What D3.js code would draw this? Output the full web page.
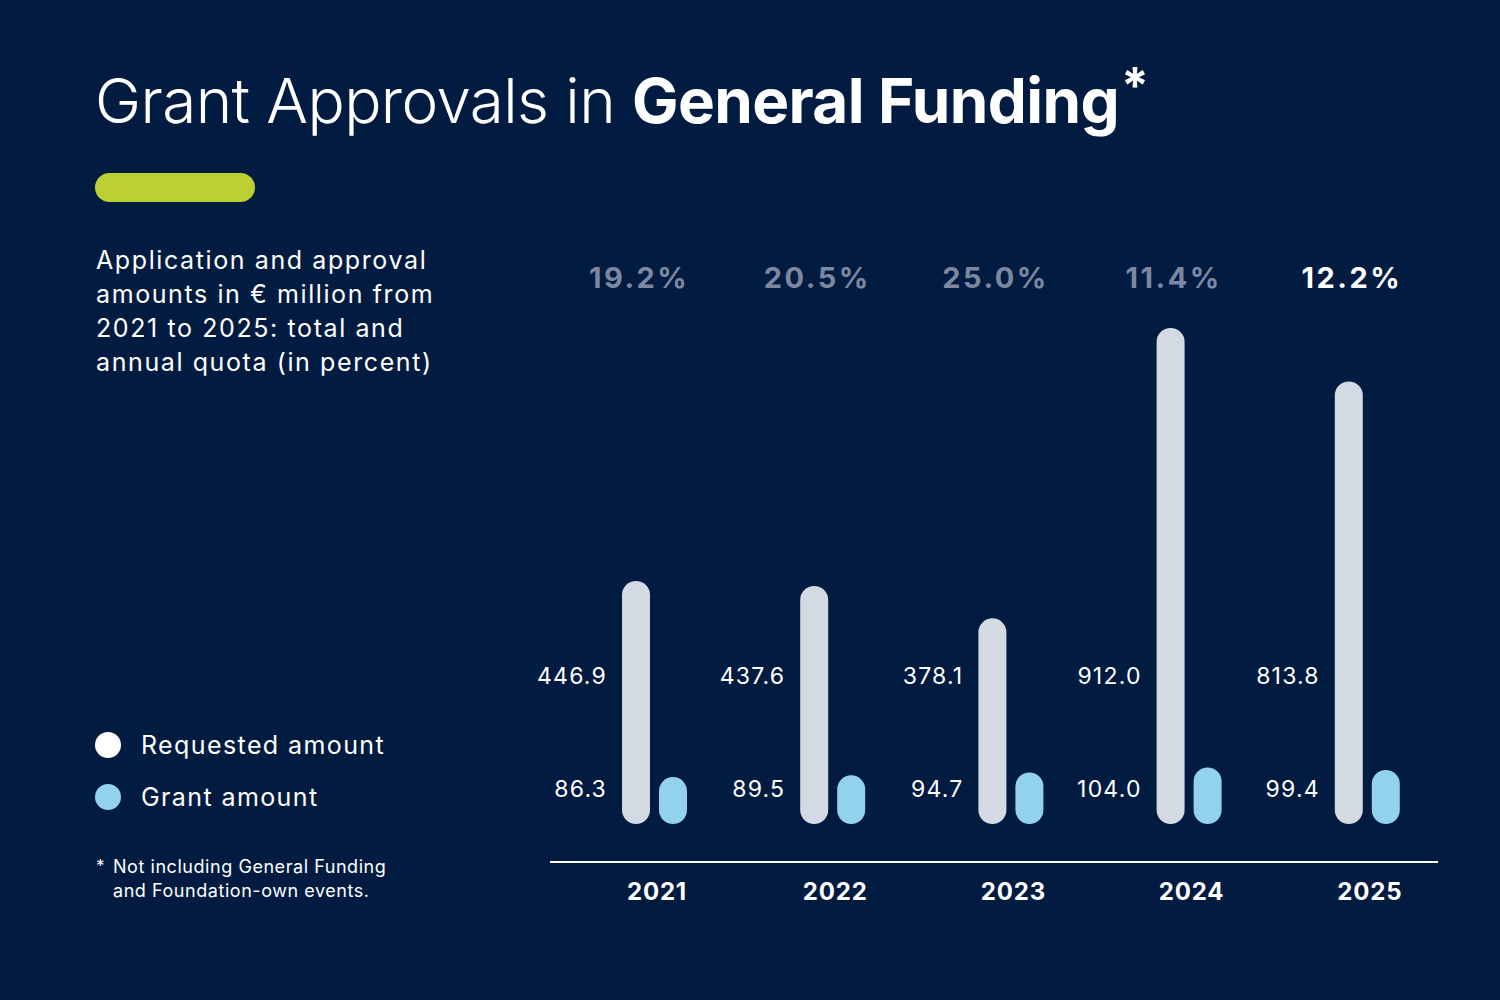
<!DOCTYPE html>
<html>
<head>
<meta charset="utf-8">
<script src="https://cdn.jsdelivr.net/npm/d3@7"></script>
<style>
  html, body { margin: 0; padding: 0; background: #011c40; }
  svg { display: block; font-family: Inter, "Open Sans", sans-serif; }
</style>
</head>
<body>
<svg id="chart" width="1500" height="1000"></svg>
<script>
const years = ['2021', '2022', '2023', '2024', '2025']
const requested = [446.9, 437.6, 378.1, 912.0, 813.8]
const granted = [86.3, 89.5, 94.7, 104.0, 99.4]
const quota = [19.2, 20.5, 25.0, 11.4, 12.2]
const subtitleLines = [
  'Application and approval',
  'amounts in € million from',
  '2021 to 2025: total and',
  'annual quota (in percent)'
]
const legendItems = ['Requested amount', 'Grant amount']
const footnoteLines = ['Not including General Funding', 'and Foundation-own events.']

const bg = '#011c40'
const reqColor = '#d4dae3'
const grantColor = '#92d2ec'
const pctGrey = '#7c88a2'

const svg = d3.select('#chart')

svg.append('rect').attr('width', 1500).attr('height', 1000).attr('fill', bg)

// title
const title = svg.append('text')
  .attr('x', 95).attr('y', 123)
  .attr('fill', 'white')
  .attr('font-size', 62)
  .attr('letter-spacing', -0.6)
title.append('tspan').attr('font-weight', 300).text('Grant Approvals in ')
title.append('tspan').attr('font-weight', 700).text('General Funding')
title.append('tspan').attr('font-weight', 700).attr('font-size', 50).attr('dx', 2).attr('dy', -20).text('*')

// green pill
svg.append('rect')
  .attr('x', 95).attr('y', 173).attr('width', 160).attr('height', 29)
  .attr('rx', 14.5).attr('fill', '#bdd033')

// subtitle
svg.append('g').selectAll('text')
  .data(subtitleLines)
  .join('text')
  .attr('x', 96)
  .attr('y', (d, i) => 269 + i * 34)
  .attr('fill', 'white')
  .attr('font-size', 25)
  .attr('letter-spacing', 1.6)
  .text(d => d)

// legend
const legend = svg.append('g').selectAll('g')
  .data(legendItems)
  .join('g')
  .attr('transform', (d, i) => `translate(108, ${745 + i * 52})`)
legend.append('circle').attr('r', 13).attr('fill', (d, i) => i ? grantColor : 'white')
legend.append('text')
  .attr('x', 33).attr('y', 9)
  .attr('fill', 'white').attr('font-size', 25).attr('letter-spacing', 1.4)
  .text(d => d)

// footnote
svg.append('text').attr('x', 96).attr('y', 872).attr('fill', 'white').attr('font-size', 17).text('*')
svg.append('g').selectAll('text')
  .data(footnoteLines)
  .join('text')
  .attr('x', 113)
  .attr('y', (d, i) => 873 + i * 24)
  .attr('fill', 'white')
  .attr('font-size', 18)
  .attr('letter-spacing', 0.55)
  .text(d => d)

// scales
const x = d3.scaleBand().domain(years).range([550, 1441])
const y = d3.scaleLinear().domain([0, 912]).range([824, 328])
const barW = 28

const groups = svg.append('g').selectAll('g')
  .data(years.map((yr, i) => ({ yr, req: requested[i], grant: granted[i], pct: quota[i], i })))
  .join('g')
  .attr('transform', d => `translate(${x(d.yr)}, 0)`)

// requested bars
groups.append('rect')
  .attr('x', 72).attr('width', barW)
  .attr('y', d => y(d.req))
  .attr('height', d => y(0) - y(d.req))
  .attr('rx', barW / 2)
  .attr('fill', reqColor)

// grant bars
groups.append('rect')
  .attr('x', 109).attr('width', barW)
  .attr('y', d => y(d.grant))
  .attr('height', d => y(0) - y(d.grant))
  .attr('rx', barW / 2)
  .attr('fill', grantColor)

// value labels
groups.append('text')
  .attr('x', 57).attr('y', 684)
  .attr('text-anchor', 'end')
  .attr('fill', 'white').attr('font-size', 23).attr('letter-spacing', 1.2)
  .text(d => d.req.toFixed(1))
groups.append('text')
  .attr('x', 57).attr('y', 797)
  .attr('text-anchor', 'end')
  .attr('fill', 'white').attr('font-size', 23).attr('letter-spacing', 1.2)
  .text(d => d.grant.toFixed(1))

// quota labels
groups.append('text')
  .attr('x', x.bandwidth() / 2).attr('y', 288)
  .attr('text-anchor', 'middle')
  .attr('fill', d => d.i === years.length - 1 ? 'white' : pctGrey)
  .attr('font-size', 29).attr('font-weight', 700).attr('letter-spacing', 2.5)
  .text(d => d.pct.toFixed(1) + '%')

// baseline axis
svg.append('line')
  .attr('x1', 550).attr('x2', 1438)
  .attr('y1', 862).attr('y2', 862)
  .attr('stroke', 'white').attr('stroke-width', 2)

// year labels
groups.append('text')
  .attr('x', 107).attr('y', 900)
  .attr('text-anchor', 'middle')
  .attr('fill', 'white').attr('font-size', 24).attr('font-weight', 700).attr('letter-spacing', 0.8)
  .text(d => d.yr)
</script>
</body>
</html>
